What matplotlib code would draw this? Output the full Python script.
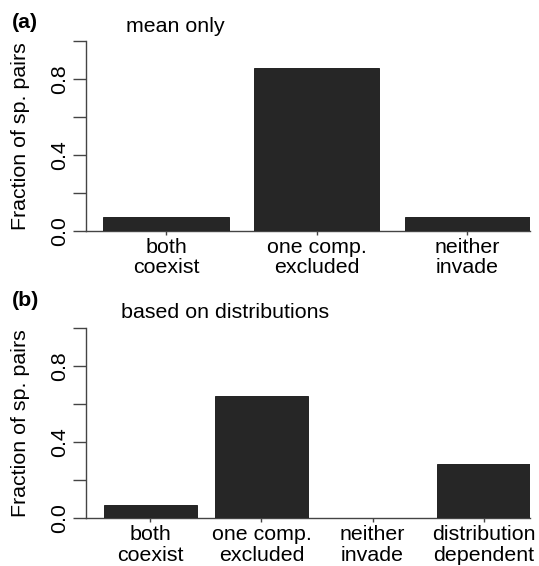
import matplotlib
matplotlib.use("Agg")
import matplotlib.pyplot as plt

plt.rcParams['font.family'] = ['Liberation Sans', 'DejaVu Sans']

# panel (a): mean only
cats_a = ["both\ncoexist", "one comp.\nexcluded", "neither\ninvade"]
vals_a = [1 / 14, 12 / 14, 1 / 14]

# panel (b): based on distributions
cats_b = ["both\ncoexist", "one comp.\nexcluded", "neither\ninvade", "distribution\ndependent"]
vals_b = [1 / 14, 9 / 14, 0.0, 4 / 14]

yticks = [0.0, 0.2, 0.4, 0.6, 0.8, 1.0]
ytick_labels = ["0.0", "", "0.4", "", "0.8", ""]

W, H = 539, 566
fig = plt.figure(figsize=(W / 100, H / 100), dpi=100)

fs = 15.4
axcol = "#444444"
barcol = "#262626"


def panel(rect, cats, vals, xleft, letter, title, title_xy, letter_xy):
    ax = fig.add_axes(rect)
    n = len(vals)
    lefts = [0.2 + i * 1.2 for i in range(n)]
    centers = [l + 0.5 for l in lefts]
    ax.bar(lefts, vals, width=1.0, align='edge', color=barcol,
           edgecolor="#111111", linewidth=0.6, zorder=3)
    ax.set_xlim(xleft, n * 1.2)
    ax.set_ylim(0, 1)
    for s in ["top", "right"]:
        ax.spines[s].set_visible(False)
    ax.spines["left"].set_color(axcol)
    ax.spines["bottom"].set_color(axcol)
    ax.spines["left"].set_linewidth(1.0)
    ax.spines["bottom"].set_linewidth(1.0)
    ax.set_yticks(yticks)
    ax.set_yticklabels(ytick_labels, rotation=90, va='center', fontsize=fs)
    ax.tick_params(axis='y', length=9.5, width=1.0, color=axcol, pad=3)
    ax.set_xticks(centers)
    ax.set_xticklabels(cats, fontsize=fs, linespacing=1.1)
    ax.tick_params(axis='x', length=3, width=1.0, color=axcol, pad=2)
    ax.text(-0.1486, 0.5, "Fraction of sp. pairs", rotation=90, transform=ax.transAxes,
            ha='center', va='center', fontsize=fs)
    fig.text(letter_xy[0] / W, 1 - letter_xy[1] / H, letter, fontweight='bold',
             fontsize=fs, ha='left', va='center')
    fig.text(title_xy[0] / W, 1 - title_xy[1] / H, title,
             fontsize=fs, ha='center', va='center')
    return ax


left = 86 / W
width = 444 / W
panel([left, (H - 231) / H, width, 190 / H], cats_a, vals_a, 0.062,
      "(a)", "mean only", (175.5, 27), (12, 22))
panel([left, (H - 518.3) / H, width, 190.6 / H], cats_b, vals_b, 0.006,
      "(b)", "based on distributions", (225, 313), (12, 300))

fig.savefig("out.png", dpi=100)
